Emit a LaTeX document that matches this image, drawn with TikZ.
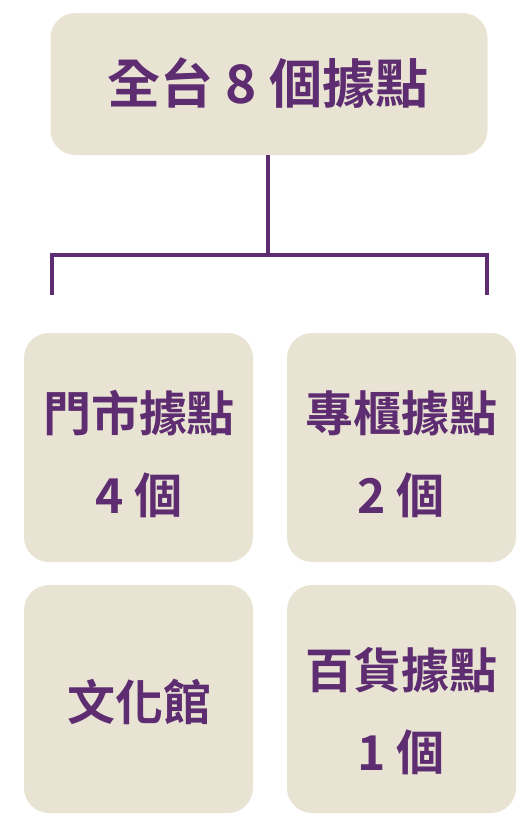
\documentclass[tikz,border=0pt]{standalone}
\usepackage{fontspec}
\setmainfont{Noto Sans CJK TC Bold}
\newfontfamily\cjkb{Noto Sans CJK TC Bold}
\definecolor{boxfill}{HTML}{E8E3D3}
\definecolor{ink}{HTML}{5E2C70}
\begin{document}
\begin{tikzpicture}[x=1pt,y=-1pt,
  cardbox/.style={fill=boxfill,rounded corners=25pt,inner sep=0pt,draw=none},
  lbl/.style={text=ink,inner sep=0pt,font=\cjkb\fontsize{48}{52}\selectfont},
  ttl/.style={text=ink,inner sep=0pt,font=\cjkb\fontsize{53}{57}\selectfont},
  link/.style={draw=ink,line width=3.2pt}]
\useasboundingbox (0,0) rectangle (519,820);
\node[cardbox,minimum width=437pt,minimum height=142pt] (top) at (269,84) {};
\node[ttl] (toptxt) at (268,83) {全台 8 個據點};
\node[cardbox,minimum width=229pt,minimum height=229pt] (b1) at (138.5,447.5) {};
\node[cardbox,minimum width=229pt,minimum height=229pt] (b2) at (401.5,447.5) {};
\node[cardbox,minimum width=229pt,minimum height=228pt] (b3) at (138.5,699) {};
\node[cardbox,minimum width=229pt,minimum height=228pt] (b4) at (401.5,699) {};
\node[lbl] (t1a) at (139,413) {門市據點};
\node[lbl] (t1b) at (139,495) {4 個};
\node[lbl] (t2a) at (401,413) {專櫃據點};
\node[lbl] (t2b) at (401,495) {2 個};
\node[lbl] (t3) at (139,702) {文化館};
\node[lbl] (t4a) at (401,670) {百貨據點};
\node[lbl] (t4b) at (401,752) {1 個};
\coordinate (jn) at (268,255);
\coordinate (lt) at (52,295);
\coordinate (rt) at (487,295);
\draw[link] (top.south -| jn) -- (jn);
\draw[link] (lt) -- (lt |- jn) -- (rt |- jn) -- (rt);
\end{tikzpicture}
\end{document}
